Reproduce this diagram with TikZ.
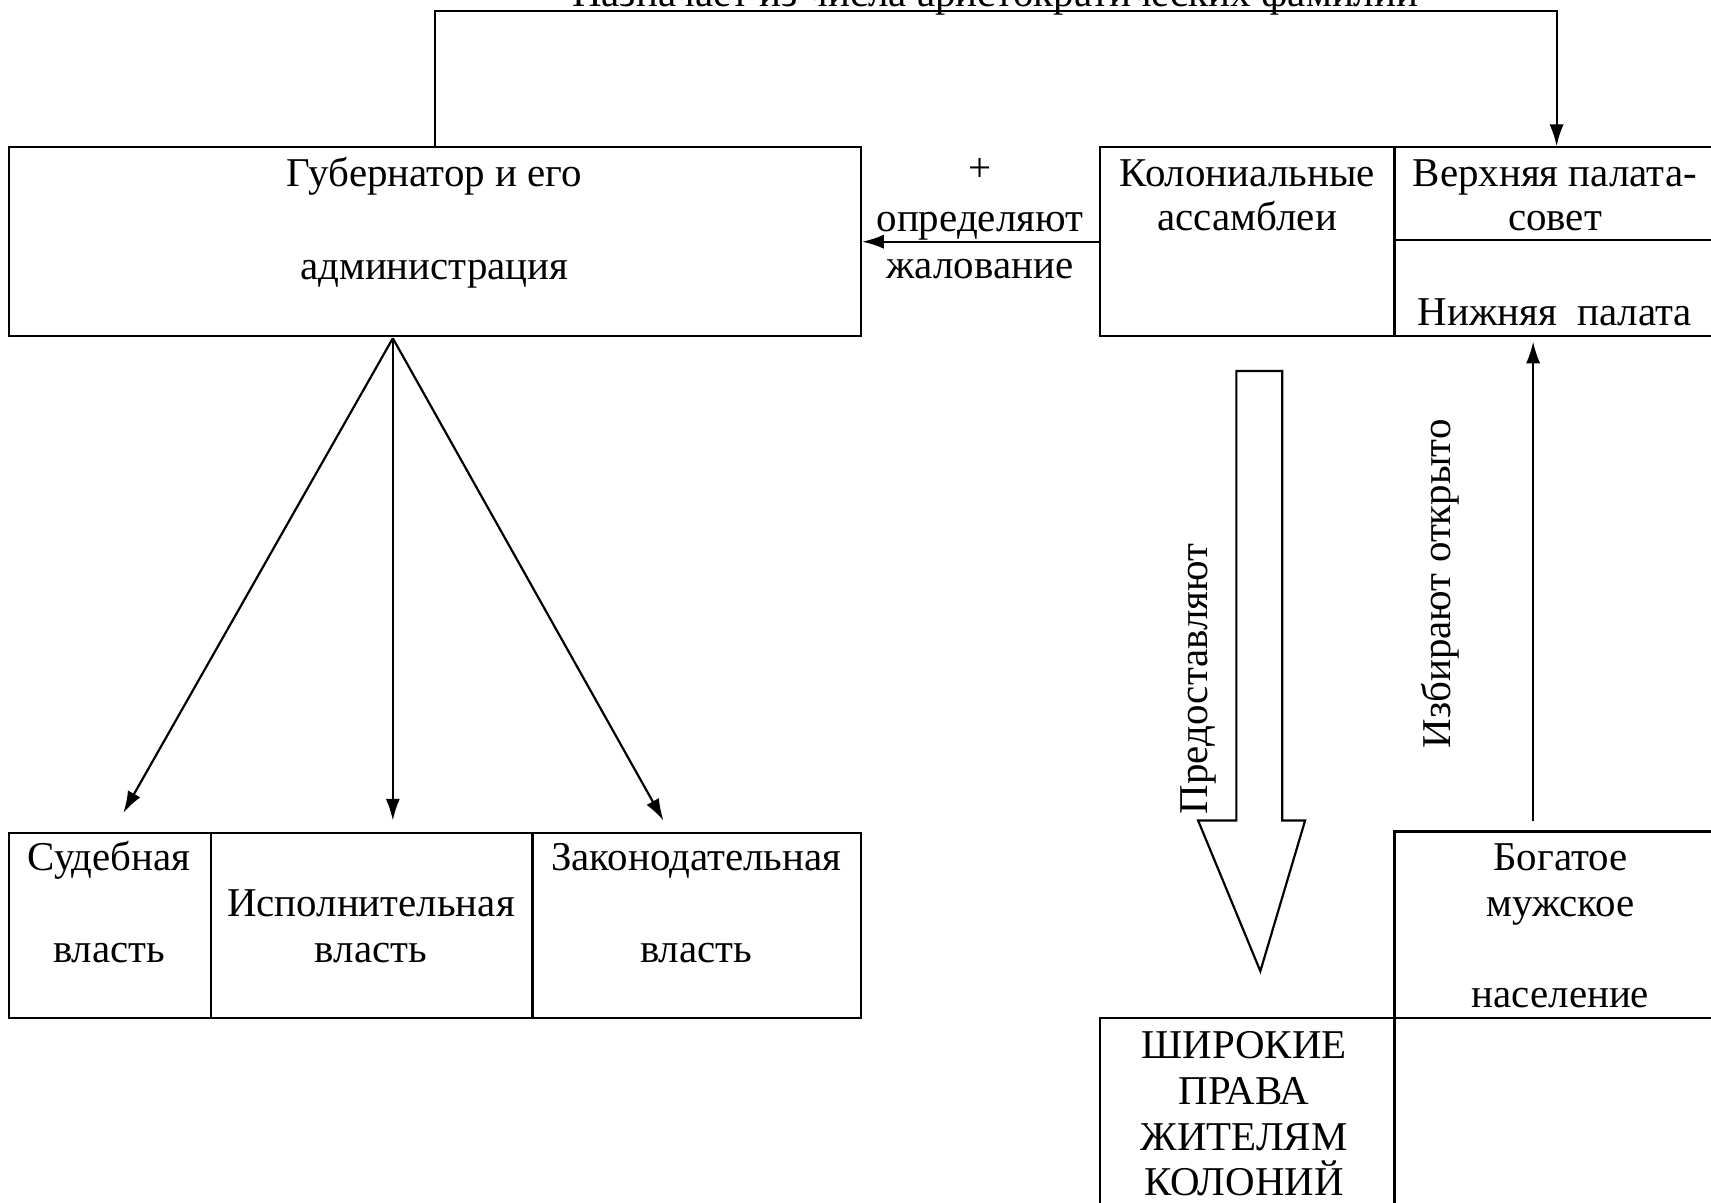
\documentclass[tikz,border=0pt]{standalone}
\usepackage{fontspec}
\setmainfont{Liberation Serif}
\usetikzlibrary{arrows.meta}
\begin{document}
\begin{tikzpicture}[x=1pt,y=-1pt,
  box/.style={draw,line width=2pt,inner sep=0pt},
  lbl/.style={anchor=base,inner sep=0pt,font=\fontsize{37.5}{44}\selectfont},
  arr/.style={line width=2pt,-{Latex[length=20pt,width=13pt]}}]
\useasboundingbox (0,0) rectangle (1568,1102);
% boxes
\node[box,minimum width=781pt,minimum height=173pt] (gov) at (398.5,221.5) {};
\node[box,minimum width=270pt,minimum height=173pt] (asm) at (1143,221.5) {};
\node[box,minimum width=297pt,minimum height=85pt] (up) at (1426.5,177.5) {};
\node[box,minimum width=297pt,minimum height=88pt] (low) at (1426.5,264) {};
\node[box,minimum width=185pt,minimum height=170pt] (jud) at (100.5,848) {};
\node[box,minimum width=295pt,minimum height=170pt] (exe) at (340.5,848) {};
\node[box,minimum width=301pt,minimum height=170pt] (leg) at (638.5,848) {};
\node[box,minimum width=297pt,minimum height=171pt] (rich) at (1426.5,847.5) {};
\node[box,minimum width=270pt,minimum height=180pt] (rights) at (1143,1023) {};
% texts
\node[lbl] (t1) at (398,171) {Губернатор и его};
\node[lbl] (t2) at (398,256) {администрация};
\node[lbl] (t3) at (898,166) {+};
\node[lbl] (t4) at (898,212) {определяют};
\node[lbl] (t5) at (898,255) {жалование};
\node[lbl] (t6) at (1143,171) {Колониальные};
\node[lbl] (t7) at (1143,211) {ассамблеи};
\node[lbl] (t8) at (1425,171) {Верхняя палата-};
\node[lbl] (t9) at (1425,211) {совет};
\node[lbl] (t10) at (1425,298) {Нижняя\ \ палата};
\node[lbl] (t11) at (100,798) {Судебная};
\node[lbl] (t12) at (100,882) {власть};
\node[lbl] (t13) at (340,840) {Исполнительная};
\node[lbl] (t14) at (340,882) {власть};
\node[lbl] (t15) at (638,798) {Законодательная};
\node[lbl] (t16) at (638,882) {власть};
\node[lbl] (t17) at (1430,798) {Богатое};
\node[lbl] (t18) at (1430,840) {мужское};
\node[lbl] (t19) at (1430,923) {население};
\node[lbl] (t20) at (1140,970) {ШИРОКИЕ};
\node[lbl] (t21) at (1140,1012) {ПРАВА};
\node[lbl] (t22) at (1140,1054) {ЖИТЕЛЯМ};
\node[lbl] (t23) at (1140,1096) {КОЛОНИЙ};
\node[lbl] (ttop) at (912,6) {Назначает из числа аристократических фамилий};
\node[lbl,anchor=center,rotate=90] (t24) at (1098,622) {Предоставляют};
\node[lbl,anchor=center,rotate=90] (t25) at (1320,535) {Избирают открыто};
% connectors
\coordinate (ctop) at (0,10);
\draw[arr] (gov.north) -- (gov.north |- ctop) -| (up.north);
\draw[arr] (asm.west) -- (gov.east);
\coordinate (gs) at (360,310);
\coordinate (a1) at (113,745);
\coordinate (a2) at (360,752);
\coordinate (a3) at (608,752);
\draw[arr] (gs) -- (a1);
\draw[arr] (gs) -- (a2);
\draw[arr] (gs) -- (a3);
\coordinate (e1) at (1405,752);
\coordinate (e2) at (1405,313);
\draw[arr] (e1) -- (e2);
% big hollow arrow
\draw[line width=2pt,line join=miter] (1133,340) -- (1175,340) -- (1175,752) -- (1196,752) -- (1155,890) -- (1098,752) -- (1133,752) -- cycle;
\end{tikzpicture}
\end{document}
